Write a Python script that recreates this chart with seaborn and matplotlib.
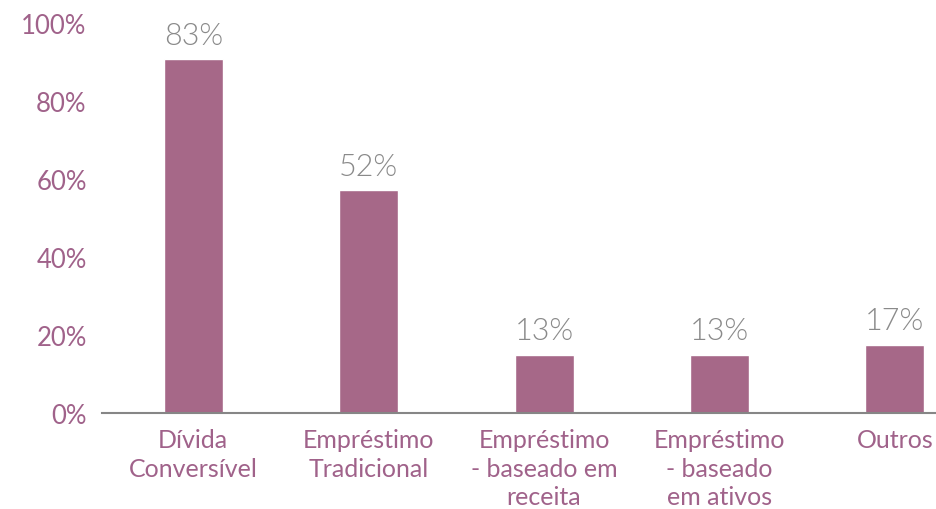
import matplotlib
matplotlib.use("Agg")
import matplotlib.pyplot as plt
import seaborn as sns
import pandas as pd

categories = ["Dívida\nConversível", "Empréstimo\nTradicional",
              "Empréstimo\n- baseado em\nreceita", "Empréstimo\n- baseado\nem ativos", "Outros"]
values = [0.907, 0.571, 0.149, 0.149, 0.175]
value_labels = ["83%", "52%", "13%", "13%", "17%"]
yticks = [0, 0.2, 0.4, 0.6, 0.8, 1.0]
ytick_labels = ["0%", "20%", "40%", "60%", "80%", "100%"]

sns.set_theme(style="white")
plt.rcParams['font.family'] = ['Lato', 'DejaVu Sans']

BAR = "#A66888"
TICK = "#A0628A"
VAL = "#8A8A8A"

df = pd.DataFrame({"cat": categories, "val": values})

fig = plt.figure(figsize=(9.37, 5.10), dpi=100)
ax = fig.add_axes([102/937, 96/510, (937-102)/937, (414-24)/510])
sns.barplot(data=df, x="cat", y="val", color=BAR, width=0.336, saturation=1, ax=ax)

ax.set_xlim(-0.52, 4.24)
ax.set_ylim(0, 1.0)
ax.set_yticks(yticks)
ax.set_yticklabels(ytick_labels)
ax.set_xlabel("")
ax.set_ylabel("")
ax.tick_params(axis="y", length=0, pad=11, labelsize=18.5, labelcolor=TICK)
ax.tick_params(axis="x", length=0, pad=11, labelsize=18, labelcolor=TICK)
for lbl in ax.get_xticklabels():
    lbl.set_linespacing(1.28)

for s in ["top", "right", "left"]:
    ax.spines[s].set_visible(False)
ax.spines["bottom"].set_color("#868686")
ax.spines["bottom"].set_linewidth(1.5)

for i, (v, t) in enumerate(zip(values, value_labels)):
    ax.annotate(t, (i, v), xytext=(0, 7), textcoords="offset points",
                ha="center", va="bottom", fontsize=22, color=VAL, fontweight=300)

fig.savefig("out.png", dpi=100)
